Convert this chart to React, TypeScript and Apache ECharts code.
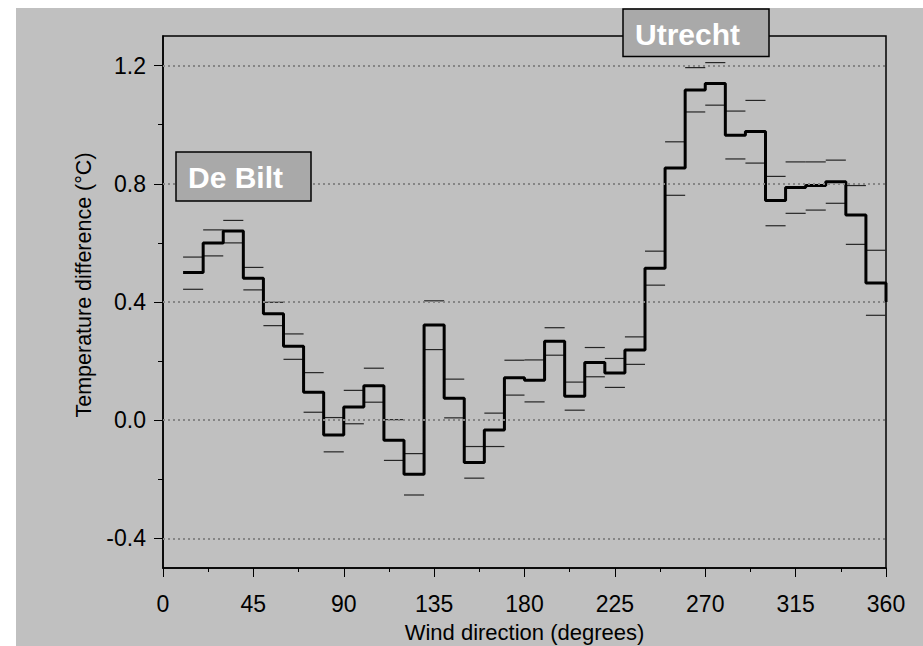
import React, { useEffect, useRef } from "react";
import * as echarts from "echarts";

// Wind-direction bins (degrees)
const binStart = [10, 20, 30, 40, 50, 60, 70, 80, 90, 100, 110, 120, 130, 140, 150, 160, 170, 180, 190, 200, 210, 220, 230, 240, 250, 260, 270, 280, 290, 300, 310, 320, 330, 340, 350];
const binEnd = [20, 30, 40, 50, 60, 70, 80, 90, 100, 110, 120, 130, 140, 150, 160, 170, 180, 190, 200, 210, 220, 230, 240, 250, 260, 270, 280, 290, 300, 310, 320, 330, 340, 350, 360];
// Mean temperature difference per bin (°C)
const meanDiff = [0.50, 0.60, 0.64, 0.48, 0.36, 0.25, 0.095, -0.05, 0.045, 0.117, -0.068, -0.183, 0.322, 0.074, -0.143, -0.033, 0.144, 0.135, 0.267, 0.081, 0.195, 0.160, 0.238, 0.514, 0.853, 1.117, 1.139, 0.964, 0.977, 0.743, 0.787, 0.794, 0.807, 0.694, 0.464];
const upperBound = [0.552, 0.644, 0.676, 0.517, 0.399, 0.292, 0.161, 0.009, 0.101, 0.176, 0.002, -0.113, 0.404, 0.139, -0.089, 0.024, 0.203, 0.204, 0.313, 0.129, 0.246, 0.209, 0.282, 0.572, 0.942, 1.193, 1.21, 1.046, 1.082, 0.825, 0.874, 0.874, 0.880, 0.794, 0.575];
const lowerBound = [0.443, 0.556, 0.600, 0.441, 0.320, 0.206, 0.027, -0.107, -0.012, 0.061, -0.136, -0.253, 0.239, 0.008, -0.196, -0.089, 0.085, 0.062, 0.220, 0.034, 0.147, 0.111, 0.189, 0.457, 0.761, 1.043, 1.066, 0.884, 0.870, 0.658, 0.700, 0.711, 0.734, 0.595, 0.355];
const closingPoint = [360, 0.40];

const yLabelValues = [-0.4, 0.0, 0.4, 0.8, 1.2];
const yMinorValues = [-0.2, 0.2, 0.6, 1.0];
const gridValues = [-0.4, 0.0, 0.4, 0.8, 1.2];
const boxLabels = ["De Bilt", "Utrecht"];

const FONT = '"Liberation Sans", Arial, Helvetica, sans-serif';

export default function App() {
  const ref = useRef<HTMLDivElement>(null);
  useEffect(() => {
    if (!ref.current) return;
    const chart = echarts.init(ref.current, undefined, { renderer: "svg" });
    const stepData: number[][] = binStart.map((x, i) => [x, meanDiff[i]]);
    stepData.push(closingPoint);
    const errData = binStart.map((x, i) => [x, binEnd[i], upperBound[i], lowerBound[i]]);

    chart.setOption({
      animation: false,
      backgroundColor: "#c0c0c0",
      textStyle: { fontFamily: FONT, color: "#000" },
      grid: {
        show: true,
        left: 147,
        right: 37,
        top: 28,
        bottom: 78,
        containLabel: false,
        outerBoundsMode: "none",
        borderColor: "#000",
        borderWidth: 1.5,
        backgroundColor: "transparent",
      },
      xAxis: {
        type: "value",
        min: 0,
        max: 360,
        interval: 45,
        name: "Wind direction (degrees)",
        nameLocation: "middle",
        nameGap: 53,
        nameTextStyle: { fontSize: 22, color: "#000", fontFamily: FONT },
        axisLine: { show: true, onZero: false, lineStyle: { color: "#000", width: 1.5 } },
        axisTick: { show: true, length: 9, lineStyle: { color: "#000", width: 1 } },
        minorTick: { show: true, splitNumber: 2, length: 4, lineStyle: { color: "#000", width: 1 } },
        axisLabel: { fontSize: 23, color: "#000", margin: 24, fontFamily: FONT },
        splitLine: { show: false },
      },
      yAxis: [
        {
          type: "value",
          min: -0.5,
          max: 1.3,
          name: "Temperature difference (°C)",
          nameLocation: "middle",
          nameGap: 62,
          nameTextStyle: { fontSize: 21.5, color: "#000", fontFamily: FONT, padding: [0, 0, 0, 34] },
          axisLine: { show: true, onZero: false, lineStyle: { color: "#000", width: 1.5 } },
          axisTick: { show: true, length: 9, customValues: yLabelValues, lineStyle: { color: "#000", width: 1 } },
          axisLabel: {
            fontSize: 23,
            color: "#000",
            margin: 17,
            fontFamily: FONT,
            customValues: yLabelValues,
            formatter: (v: number) => v.toFixed(1),
          },
          splitLine: { show: false },
        },
        {
          type: "value",
          min: -0.5,
          max: 1.3,
          position: "left",
          axisLine: { show: false, onZero: false },
          axisTick: { show: true, length: 5, customValues: yMinorValues, lineStyle: { color: "#000", width: 1 } },
          axisLabel: { show: false },
          splitLine: { show: false },
        },
      ],
      series: [
        {
          type: "custom",
          name: "range",
          z: 2,
          data: errData,
          encode: { x: [0, 1], y: [2, 3] },
          renderItem: (params: any, api: any) => {
            const x0 = api.value(0);
            const x1 = api.value(1);
            const a = api.coord([x0, api.value(2)]);
            const b = api.coord([x1, api.value(2)]);
            const c = api.coord([x0, api.value(3)]);
            const d = api.coord([x1, api.value(3)]);
            const st = { stroke: "#262626", lineWidth: 1.2 };
            return {
              type: "group",
              children: [
                { type: "line", shape: { x1: a[0], y1: a[1], x2: b[0], y2: b[1] }, style: st },
                { type: "line", shape: { x1: c[0], y1: c[1], x2: d[0], y2: d[1] }, style: st },
              ],
            };
          },
          markLine: {
            silent: true,
            symbol: ["none", "none"],
            label: { show: false },
            lineStyle: { color: "#858585", type: [2, 3], width: 2 },
            data: gridValues.map((v) => ({ yAxis: v })),
          },
        },
        {
          type: "line",
          name: "difference",
          step: "end",
          z: 3,
          symbol: "none",
          data: stepData,
          lineStyle: { color: "#000", width: 3 },
        },
      ],
      graphic: [
        {
          type: "rect",
          z: 100,
          shape: { x: 160, y: 144, width: 135, height: 49 },
          style: { fill: "#a9a9a9", stroke: "#000", lineWidth: 1.5 },
        },
        {
          type: "text",
          z: 101,
          x: 172,
          y: 169,
          style: {
            text: boxLabels[0],
            fill: "#fff",
            fontSize: 30,
            fontWeight: "bold",
            fontFamily: FONT,
            verticalAlign: "middle",
            align: "left",
          },
        },
        {
          type: "rect",
          z: 100,
          shape: { x: 607, y: 1, width: 146, height: 47.5 },
          style: { fill: "#a9a9a9", stroke: "#000", lineWidth: 1.5 },
        },
        {
          type: "text",
          z: 101,
          x: 619,
          y: 26,
          style: {
            text: boxLabels[1],
            fill: "#fff",
            fontSize: 30,
            fontWeight: "bold",
            fontFamily: FONT,
            verticalAlign: "middle",
            align: "left",
          },
        },
      ],
    });
    return () => chart.dispose();
  }, []);
  return (
    <div
      ref={ref}
      style={{ position: "absolute", left: 16, top: 8, width: 907, height: 638 }}
    />
  );
}
